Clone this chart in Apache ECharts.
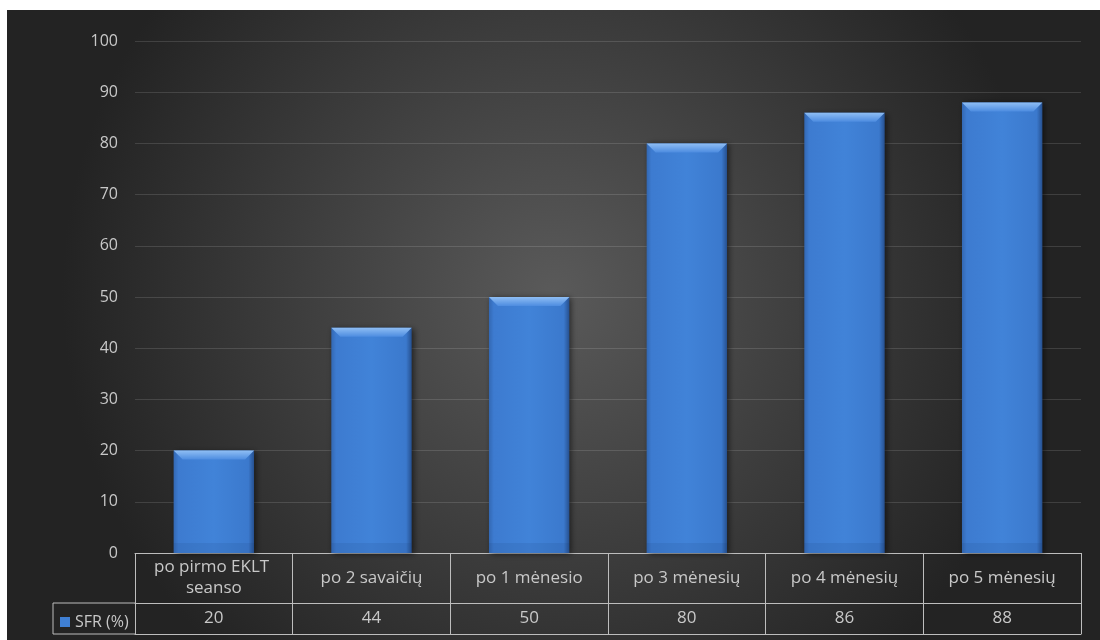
<!DOCTYPE html>
<html>
<head>
<meta charset="utf-8">
<script src="https://cdn.jsdelivr.net/npm/echarts@6/dist/echarts.min.js"></script>
<style>
  html, body { margin: 0; padding: 0; background: #fff; }
  #chart { position: absolute; left: 7px; top: 10px; width: 1093px; height: 630px; }
</style>
</head>
<body>
<div id="chart"></div>
<script>
var categories = ['po pirmo EKLT seanso', 'po 2 savaičių', 'po 1 mėnesio', 'po 3 mėnesių', 'po 4 mėnesių', 'po 5 mėnesių'];
var sfrValues = [20, 44, 50, 80, 86, 88];
var seriesName = 'SFR (%)';

var labelColor = '#c8c8c8';
var tableLine = '#bdbdbd';
var font = 'Open Sans';

// bar with bevelled top edge, drawn from the value scale
function renderBar(params, api) {
    var top = api.coord([api.value(0), api.value(1)]);
    var base = api.coord([api.value(0), 0]);
    var w = api.size([1, 0])[0] * 0.51;
    var x = top[0] - w / 2;
    var y = top[1];
    var h = base[1] - top[1];
    var b = Math.min(9, h / 2);
    return {
        type: 'group',
        children: [{
            type: 'rect',
            shape: {x: x, y: y, width: w, height: h},
            style: {
                fill: new echarts.graphic.LinearGradient(0, 0, 1, 0, [
                    {offset: 0, color: '#3368b3'},
                    {offset: 0.06, color: '#3d7bd0'},
                    {offset: 0.5, color: '#4183d8'},
                    {offset: 0.93, color: '#3b79cd'},
                    {offset: 1, color: '#26508f'}
                ]),
                shadowBlur: 6,
                shadowColor: 'rgba(0,0,0,0.55)',
                shadowOffsetX: 2,
                shadowOffsetY: 1
            }
        }, {
            type: 'polygon',
            shape: {points: [[x, y], [x + w, y], [x + w - b, y + b], [x + b, y + b]]},
            style: {
                fill: new echarts.graphic.LinearGradient(0, 0, 0, 1, [
                    {offset: 0, color: '#8fbef4'},
                    {offset: 1, color: '#4d8ce0'}
                ])
            }
        }, {
            type: 'rect',
            shape: {x: x, y: base[1] - 10, width: w, height: 10},
            style: {fill: 'rgba(20,50,100,0.1)'}
        }]
    };
}

var chart = echarts.init(document.getElementById('chart'));
chart.setOption({
    backgroundColor: new echarts.graphic.RadialGradient(0.5, 0.45, 0.78, [
        {offset: 0, color: '#5a5a5a'},
        {offset: 1, color: '#232323'}
    ]),
    textStyle: {fontFamily: font},
    grid: {left: 128, right: 19, top: 31, bottom: 87},
    legend: {
        left: 48, top: 599,
        data: [seriesName],
        icon: 'rect', itemWidth: 10, itemHeight: 10, itemGap: 4,
        textStyle: {color: labelColor, fontSize: 16, fontFamily: font}
    },
    xAxis: [{
        type: 'category',
        data: categories,
        position: 'bottom',
        axisLine: {show: true, lineStyle: {color: tableLine, width: 1}},
        axisTick: {show: true, length: 81, lineStyle: {color: tableLine, width: 1}},
        axisLabel: {
            color: labelColor, fontSize: 17, interval: 0, margin: 25,
            verticalAlign: 'middle', lineHeight: 21,
            width: 140, overflow: 'break'
        }
    }, {
        type: 'category',
        data: sfrValues.map(String),
        position: 'bottom',
        offset: 50,
        axisLine: {show: true, lineStyle: {color: tableLine, width: 1}},
        axisTick: {show: false},
        axisLabel: {color: labelColor, fontSize: 17, interval: 0, margin: 15, verticalAlign: 'middle'}
    }, {
        type: 'category',
        data: categories,
        position: 'bottom',
        offset: 81,
        axisLine: {show: true, lineStyle: {color: tableLine, width: 1}},
        axisTick: {show: false},
        axisLabel: {show: false}
    }],
    yAxis: {
        type: 'value',
        min: 0, max: 100, interval: 10,
        axisLine: {show: false},
        axisTick: {show: false},
        axisLabel: {color: labelColor, fontSize: 16, margin: 17},
        splitLine: {lineStyle: {color: 'rgba(255,255,255,0.13)', width: 1}}
    },
    series: [{
        name: seriesName,
        type: 'custom',
        renderItem: renderBar,
        encode: {x: 0, y: 1},
        itemStyle: {color: '#3f7fd3'},
        data: sfrValues.map(function (v, i) { return [i, v]; })
    }],
    graphic: [{
        type: 'polyline',
        shape: {points: [[128, 593], [46, 593], [46, 624], [128, 624]]},
        style: {stroke: tableLine, lineWidth: 1, fill: null}
    }]
});
</script>
</body>
</html>
